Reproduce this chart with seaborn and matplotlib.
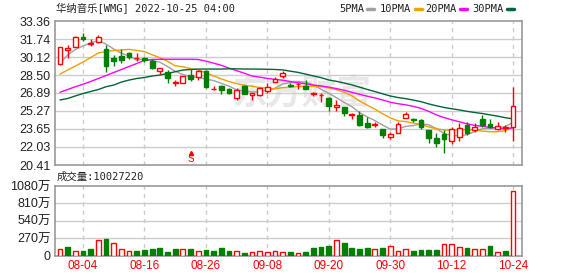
import numpy as np
import pandas as pd
import matplotlib
matplotlib.use("Agg")
import matplotlib.pyplot as plt
import seaborn as sns

sns.set_theme(style="white")
plt.rcParams['font.family'] = ['Liberation Sans', 'Noto Sans CJK SC', 'DejaVu Sans']

# ---------------- data ----------------
dates = [d.strftime('%m-%d') for d in pd.bdate_range('2022-08-01', '2022-10-24')
         if d.strftime('%m-%d') != '09-05']

opens = [29.47, 30.72, 31.05, 31.89, 31.27, 31.50, 30.82, 30.06, 30.21, 30.51,
         30.00, 30.00, 29.79, 28.89, 28.80, 27.81, 27.81, 28.50, 28.30, 28.86,
         27.20, 27.52, 27.25, 26.46, 27.48, 26.70, 26.71, 27.09, 27.85, 28.44,
         27.60, 27.66, 27.55, 26.83, 26.68, 26.46, 25.66, 25.60, 24.95, 24.91,
         24.16, 24.03, 23.62, 22.96, 23.32, 24.61, 24.55, 24.46, 23.56, 22.87,
         23.17, 22.60, 22.96, 24.01, 23.56, 24.55, 24.10, 23.62, 23.76, 23.80]
highs = [31.05, 31.20, 32.00, 32.25, 31.71, 32.10, 31.20, 30.30, 30.82, 30.60,
         30.45, 30.15, 29.94, 29.10, 28.95, 28.05, 28.45, 29.00, 28.95, 28.95,
         27.52, 27.61, 27.34, 27.31, 27.61, 26.88, 27.46, 27.76, 28.35, 28.86,
         27.76, 27.81, 28.05, 27.00, 26.86, 26.55, 26.26, 25.62, 25.06, 25.27,
         24.70, 24.25, 23.65, 23.41, 24.31, 25.20, 24.67, 24.55, 23.56, 23.26,
         23.56, 23.80, 24.19, 24.31, 24.19, 24.91, 24.55, 24.25, 24.01, 27.40]
lows = [29.40, 30.06, 31.00, 31.59, 31.11, 31.35, 28.80, 29.34, 29.56, 29.94,
        29.79, 29.70, 29.04, 28.60, 27.81, 27.52, 27.78, 27.96, 28.05, 27.31,
        27.16, 26.80, 26.80, 26.26, 26.80, 26.26, 26.65, 26.91, 27.85, 28.20,
        27.46, 27.22, 27.22, 26.62, 26.10, 25.30, 25.30, 24.85, 24.52, 23.92,
        23.71, 23.80, 22.81, 22.75, 23.26, 24.61, 24.31, 23.62, 22.42, 22.06,
        21.50, 22.30, 22.60, 23.11, 23.35, 23.86, 23.71, 23.52, 23.41, 22.60]
closes = [30.99, 30.96, 31.95, 31.77, 31.36, 31.95, 29.34, 29.79, 29.85, 30.15,
          30.05, 29.82, 29.16, 29.10, 28.20, 27.88, 28.41, 28.10, 28.86, 27.40,
          27.25, 27.16, 26.86, 27.16, 26.84, 26.88, 27.31, 27.46, 28.12, 28.71,
          27.52, 27.72, 27.25, 26.88, 26.73, 25.68, 25.78, 25.12, 25.00, 24.01,
          23.80, 24.10, 23.11, 23.17, 24.07, 24.97, 24.45, 23.86, 22.81, 22.36,
          22.72, 23.62, 23.71, 23.26, 23.80, 24.01, 23.80, 23.92, 23.80, 25.74]
# volume in 万 shares
volumes = [105, 126, 74, 63, 95, 247, 252, 189, 105, 74,
           63, 79, 95, 110, 47, 95, 95, 95, 74, 79,
           63, 110, 63, 74, 32, 47, 63, 47, 63, 47,
           52, 42, 47, 110, 126, 142, 247, 189, 110, 95,
           110, 105, 110, 153, 74, 105, 63, 79, 79, 79,
           184, 184, 137, 110, 105, 105, 142, 58, 63, 1002.722]

# moving-average values on the first days (window reaches before the visible range)
ma5_head = [29.54, 30.30, 30.80, 31.11]
ma10_head = [28.59, 28.95, 29.31, 29.67, 30.08, 30.48, 30.62, 30.71, 30.75]
ma20_head = [26.95, 27.20, 27.45, 27.67, 27.92, 28.19, 28.46, 28.73, 29.00, 29.27,
             29.54, 29.81, 29.90, 29.92, 29.92, 29.92, 29.92, 29.92, 29.90]
ma30_head = [26.26, 26.39, 26.62, 26.84, 27.02, 27.20, 27.45, 27.60, 27.87, 28.05,
             28.19, 28.28, 28.41, 28.50, 28.64, 28.80, 28.95, 29.00, 29.04, 29.04,
             29.04, 29.04, 29.06, 29.06, 29.04, 29.04, 29.03, 29.02, 29.00]

tick_labels = ['08-04', '08-16', '08-26', '09-08', '09-20', '09-30', '10-12', '10-24']
price_ticks = [20.41, 22.03, 23.65, 25.27, 26.89, 28.50, 30.12, 31.74, 33.36]
vol_ticks = [0, 270, 540, 810, 1080]
vol_tick_labels = ['0', '270万', '540万', '810万', '1080万']
signal_day = '08-24'
signal_text = 'S'
title = '华纳音乐[WMG] 2022-10-25 04:00'
vol_title = '成交量:10027220'
ma_names = ['5PMA', '10PMA', '20PMA', '30PMA']
ma_colors = ['#a0a0a0', '#f0a000', '#ff00ff', '#006633']

# ---------------- build ----------------
df = pd.DataFrame({'date': dates, 'open': opens, 'high': highs, 'low': lows,
                   'close': closes, 'vol': volumes})
df['x'] = np.arange(len(df))
cs = df['close']
def ma(head, n):
    rolled = cs.rolling(n).mean().to_numpy()
    out = rolled.copy()
    out[:len(head)] = head
    return out
mas = [ma(ma5_head, 5), ma(ma10_head, 10), ma(ma20_head, 20), ma(ma30_head, 30)]

RED = '#ff0000'
GREEN = '#008000'
W, H = 578, 276
fig = plt.figure(figsize=(W / 100, H / 100), dpi=100)
fx = lambda px: px / W
fy = lambda py: 1 - py / H
L, R = 55, 522
ax = fig.add_axes([fx(L), fy(165), (R - L) / W, (165 - 21) / H])
axv = fig.add_axes([fx(L), fy(255.5), (R - L) / W, (255.5 - 186) / H])

xlim = (-0.65, 60.16)
tick_pos = [dates.index(t) for t in tick_labels]
for a in (ax, axv):
    a.set_xlim(*xlim)
    a.set_facecolor('white')
    for s in a.spines.values():
        s.set_color('#999999')
        s.set_linewidth(1.2)
    a.tick_params(length=0, pad=3)
    for p in tick_pos:
        a.axvline(p, color='#cccccc', lw=1, ls=(0, (3, 3)), zorder=0)

# watermark
ax.text(0.53, 0.5, '东方财富', transform=ax.transAxes, fontsize=25,
        color='#e8e8e8', ha='center', va='center', zorder=0,
        family=['Noto Sans CJK SC'], fontweight='bold')

# price grid
ax.set_ylim(price_ticks[0], price_ticks[-1])
ax.set_yticks(price_ticks)
ax.set_yticklabels([f'{v:.2f}' for v in price_ticks], fontsize=9, color='#222222')
for v in price_ticks[1:-1]:
    ax.axhline(v, color='#cccccc', lw=1, zorder=0)
ax.set_xticks(tick_pos)
ax.set_xticklabels([])

# MA lines
for m, c in zip(mas, ma_colors):
    sns.lineplot(x=df['x'], y=m, ax=ax, color=c, lw=1, zorder=2)
ax.set_xlabel('')
ax.set_ylabel('')

# candles
bw = 0.62
for _, r in df.iterrows():
    up = r['close'] >= r['open']
    col = RED if up else GREEN
    ax.vlines(r['x'], r['low'], r['high'], color=col, lw=1, zorder=3)
    lo, hi = min(r['open'], r['close']), max(r['open'], r['close'])
    h = max(hi - lo, 0.02)
    ax.bar(r['x'], h, bottom=lo, width=bw, facecolor='white' if up else GREEN,
           edgecolor=col, lw=1, zorder=4)

# signal marker
si = dates.index(signal_day)
ax.plot([si], [21.45], marker='^', ms=3, color=RED, mec=RED, zorder=5)
ax.text(si, 20.95, signal_text, color=RED, fontsize=7, ha='center', va='center', zorder=5)

# volume
prev = cs.shift(1).fillna(df['open'])
vol_up = cs >= prev
axv.set_ylim(0, vol_ticks[-1])
axv.set_yticks(vol_ticks)
axv.set_yticklabels(vol_tick_labels, fontsize=9, color='#222222')
for v in vol_ticks[1:-1]:
    axv.axhline(v, color='#cccccc', lw=1, zorder=0)
axv.bar(df['x'], df['vol'], width=bw,
        facecolor=['white' if u else GREEN for u in vol_up],
        edgecolor=[RED if u else GREEN for u in vol_up], lw=1, zorder=3)
axv.set_xticks(tick_pos)
axv.set_xticklabels(tick_labels, fontsize=8.5, color=RED)

# texts
mono = ['DejaVu Sans Mono', 'Noto Sans CJK SC']
fig.text(fx(56), fy(9), title, fontsize=7.5, family=mono, va='center', ha='left', color='#222222')
fig.text(fx(57), fy(177), vol_title, fontsize=7.5, family=mono, va='center', ha='left', color='#222222')
lx = [339, 380, 425, 472]
for name, c, x0 in zip(ma_names, ma_colors, lx):
    t = fig.text(fx(x0), fy(9), name, fontsize=7.5, family=mono, va='center', ha='left', color='#222222')
    w = len(name) * 6.3
    fig.add_artist(plt.Line2D([fx(x0 + w + 3), fx(x0 + w + 10)], [fy(9), fy(9)],
                              color=c, lw=2.5, transform=fig.transFigure))

fig.savefig('out.png', dpi=100, facecolor='white')
